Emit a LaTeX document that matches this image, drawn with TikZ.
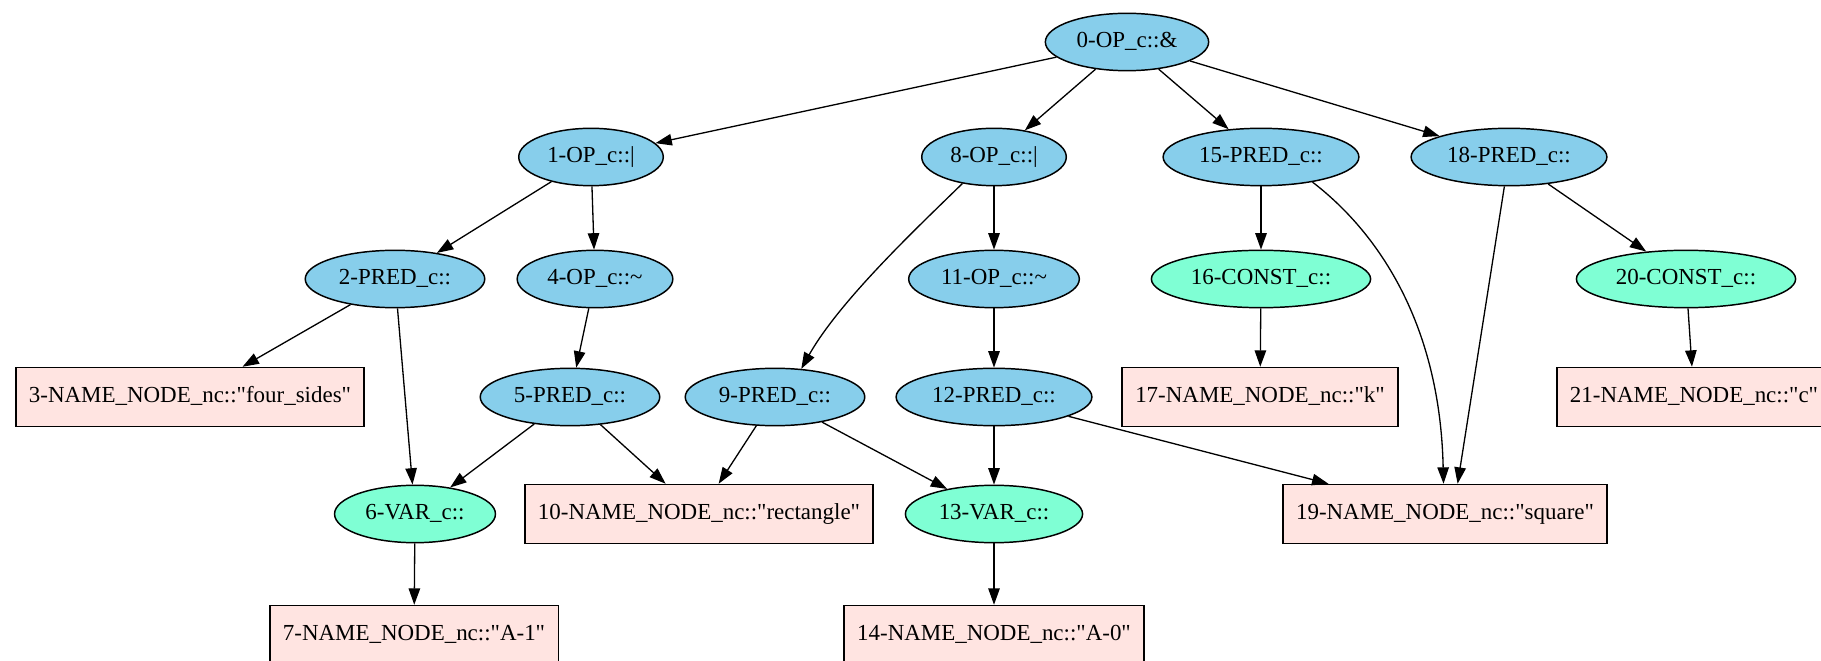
\documentclass[tikz,border=0pt]{standalone}
\usepackage{fontspec}
\setmainfont{Liberation Serif}[Ligatures=TeXOff]
\usetikzlibrary{shapes.geometric,arrows.meta,calc}
\definecolor{opblue}{HTML}{87CEEB}
\definecolor{leafgreen}{HTML}{7FFFD4}
\definecolor{namepink}{HTML}{FFE4E1}
\begin{document}
\begin{tikzpicture}[x=0.61pt,y=-0.61pt,
  every node/.style={font=\fontsize{14}{16}\selectfont, text height=9.5pt, text depth=3pt},
  opnode/.style={ellipse, draw, line width=0.9pt, fill=opblue, inner xsep=4.5pt, inner ysep=2pt, minimum height=35pt},
  leafnode/.style={opnode, fill=leafgreen},
  namebox/.style={rectangle, draw, line width=0.9pt, fill=namepink, inner xsep=8pt, minimum height=36pt},
  edge/.style={-{Triangle[length=10pt,width=7pt]}, line width=0.8pt}
]
\useasboundingbox (0,0) rectangle (1821,661);
\clip (0,0) rectangle (1821,661);
\node[opnode] (n0) at (1127,42) {0-OP\_c::\&};
\node[opnode] (n1) at (591,157) {1-OP\_c::|};
\node[opnode] (n8) at (994,157) {8-OP\_c::|};
\node[opnode] (n15) at (1261,157) {15-PRED\_c::};
\node[opnode] (n18) at (1509,157) {18-PRED\_c::};
\node[opnode] (n2) at (395,279) {2-PRED\_c::};
\node[opnode] (n4) at (595,279) {4-OP\_c::\textasciitilde};
\node[opnode] (n11) at (994,279) {11-OP\_c::\textasciitilde};
\node[leafnode] (n16) at (1261,279) {16-CONST\_c::};
\node[leafnode] (n20) at (1686,279) {20-CONST\_c::};
\node[namebox] (n3) at (190,397) {3-NAME\_NODE\_nc::"four\_sides"};
\node[opnode] (n5) at (570,397) {5-PRED\_c::};
\node[opnode] (n9) at (775,397) {9-PRED\_c::};
\node[opnode] (n12) at (994,397) {12-PRED\_c::};
\node[namebox] (n17) at (1260,397) {17-NAME\_NODE\_nc::"k"};
\node[namebox] (n21) at (1694,397) {21-NAME\_NODE\_nc::"c"};
\node[leafnode] (n6) at (415,514) {6-VAR\_c::};
\node[namebox] (n10) at (699,514) {10-NAME\_NODE\_nc::"rectangle"};
\node[leafnode] (n13) at (994,514) {13-VAR\_c::};
\node[namebox] (n19) at (1445,514) {19-NAME\_NODE\_nc::"square"};
\node[namebox] (n7) at (414,635) {7-NAME\_NODE\_nc::"A-1"};
\node[namebox] (n14) at (994,635) {14-NAME\_NODE\_nc::"A-0"};

\draw[edge] (n0) -- (n1);
\draw[edge] (n0) -- (n8);
\draw[edge] (n0) -- (n15);
\draw[edge] (n0) -- (n18);
\draw[edge] (n1) -- (n2);
\draw[edge] (n1) -- (n4);
\draw[edge] (n2) -- (n3);
\draw[edge] (n2) -- (n6);
\draw[edge] (n4) -- (n5);
\draw[edge] (n5) -- (n6);
\draw[edge] (n5) -- (n10);
\draw[edge] (n6) -- (n7);
\draw[edge] (n8.220) .. controls (920,225) and (840,300) .. (n9.47);
\draw[edge] (n8) -- (n11);
\draw[edge] (n11) -- (n12);
\draw[edge] (n9) -- (n10);
\draw[edge] (n9) -- (n13);
\draw[edge] (n12) -- (n13);
\draw[edge] (n12) -- (n19);
\draw[edge] (n13) -- (n14);
\draw[edge] (n15) -- (n16);
\draw[edge] (n16) -- (n17);
\draw[edge] (n15.-26) .. controls (1375,230) and (1440,320) .. ($(n19.north)+(-1.5,0)$);
\draw[edge] (n18) -- ($(n19.north)+(12.6,0)$);
\draw[edge] (n18) -- (n20);
\draw[edge] (n20) -- (n21);
\end{tikzpicture}
\end{document}
